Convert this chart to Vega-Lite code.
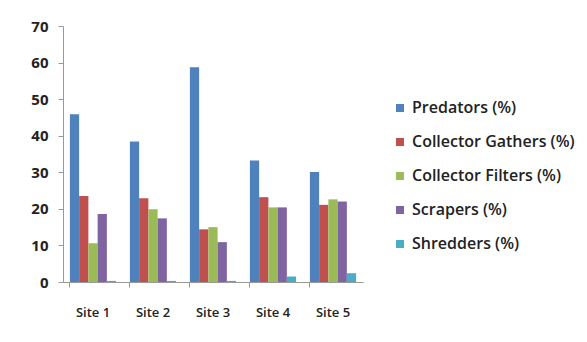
{
  "$schema": "https://vega.github.io/schema/vega-lite/v6.json",
  "autosize": "none",
  "width": 300,
  "height": 256,
  "padding": {"left": 63, "top": 26, "right": 224, "bottom": 60},
  "background": "white",
  "data": {"values": [
    {"site": "Site 1", "group": "Predators (%)", "value": 45.9},
    {"site": "Site 1", "group": "Collector Gathers (%)", "value": 23.5},
    {"site": "Site 1", "group": "Collector Filters (%)", "value": 10.6},
    {"site": "Site 1", "group": "Scrapers (%)", "value": 18.6},
    {"site": "Site 1", "group": "Shredders (%)", "value": 0.3},
    {"site": "Site 2", "group": "Predators (%)", "value": 38.4},
    {"site": "Site 2", "group": "Collector Gathers (%)", "value": 22.9},
    {"site": "Site 2", "group": "Collector Filters (%)", "value": 19.9},
    {"site": "Site 2", "group": "Scrapers (%)", "value": 17.4},
    {"site": "Site 2", "group": "Shredders (%)", "value": 0.3},
    {"site": "Site 3", "group": "Predators (%)", "value": 58.7},
    {"site": "Site 3", "group": "Collector Gathers (%)", "value": 14.4},
    {"site": "Site 3", "group": "Collector Filters (%)", "value": 15.0},
    {"site": "Site 3", "group": "Scrapers (%)", "value": 10.9},
    {"site": "Site 3", "group": "Shredders (%)", "value": 0.3},
    {"site": "Site 4", "group": "Predators (%)", "value": 33.2},
    {"site": "Site 4", "group": "Collector Gathers (%)", "value": 23.2},
    {"site": "Site 4", "group": "Collector Filters (%)", "value": 20.4},
    {"site": "Site 4", "group": "Scrapers (%)", "value": 20.4},
    {"site": "Site 4", "group": "Shredders (%)", "value": 1.5},
    {"site": "Site 5", "group": "Predators (%)", "value": 30.1},
    {"site": "Site 5", "group": "Collector Gathers (%)", "value": 21.1},
    {"site": "Site 5", "group": "Collector Filters (%)", "value": 22.6},
    {"site": "Site 5", "group": "Scrapers (%)", "value": 22.0},
    {"site": "Site 5", "group": "Shredders (%)", "value": 2.4}
  ]},
  "mark": {"type": "bar"},
  "encoding": {
    "x": {
      "field": "site", "type": "nominal", "title": null,
      "scale": {"paddingInner": 0.23, "paddingOuter": 0.115},
      "axis": {"labelAngle": 0, "bandPosition": 0, "tickSize": 5, "labelPadding": 19,
               "domainColor": "#999", "tickColor": "#999", "labelFontSize": 13,
               "labelFont": "Open Sans", "labelColor": "#222", "labelFontWeight": 600}
    },
    "xOffset": {"field": "group", "type": "nominal", "sort": ["Predators (%)", "Collector Gathers (%)", "Collector Filters (%)", "Scrapers (%)", "Shredders (%)"], "scale": {"paddingInner": 0}},
    "y": {
      "field": "value", "type": "quantitative", "title": null,
      "scale": {"domain": [0, 70], "nice": false},
      "axis": {"values": [0, 10, 20, 30, 40, 50, 60, 70], "grid": false, "tickSize": 5, "labelPadding": 10,
               "domainColor": "#999", "tickColor": "#999", "labelFontSize": 15,
               "labelFont": "Open Sans", "labelColor": "#222", "labelFontWeight": "bold"}
    },
    "color": {
      "field": "group", "type": "nominal", "title": null,
      "sort": ["Predators (%)", "Collector Gathers (%)", "Collector Filters (%)", "Scrapers (%)", "Shredders (%)"],
      "scale": {"range": ["#4F81BD", "#C0504D", "#9BBB59", "#8064A2", "#4BACC6"]},
      "legend": {"orient": "none", "legendX": 329, "legendY": 74, "symbolType": "square", "symbolSize": 64,
                 "symbolStrokeWidth": 0, "rowPadding": 18, "labelFontSize": 16, "labelFont": "Open Sans",
                 "labelFontWeight": 600, "labelColor": "#222", "labelOffset": 4, "labelLimit": 220}
    }
  },
  "config": {"view": {"stroke": null}}
}
